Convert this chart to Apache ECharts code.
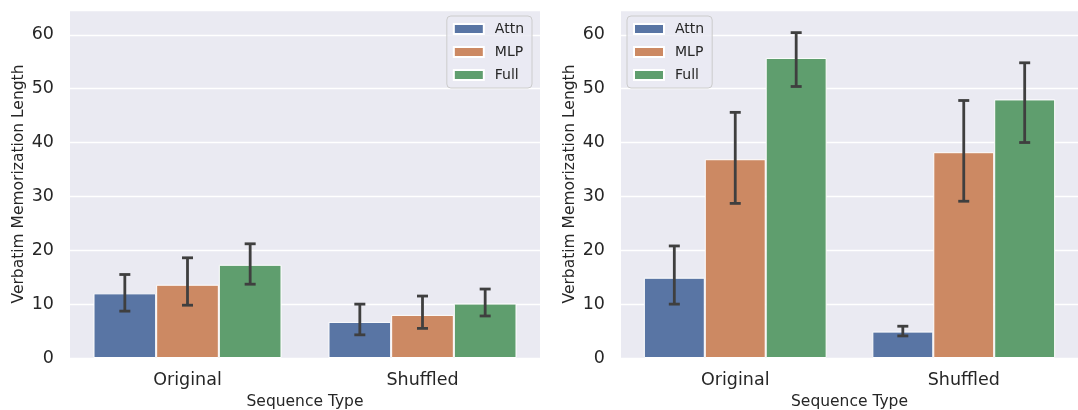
<!DOCTYPE html>
<html>
<head>
<meta charset="utf-8">
<script src="https://cdn.jsdelivr.net/npm/echarts@6/dist/echarts.min.js"></script>
<style>
html,body{margin:0;padding:0;background:#fff;}
#chart{width:1078px;height:410px;}
</style>
</head>
<body>
<div id="chart"></div>
<script>
const categories = ['Original', 'Shuffled'];
const seriesNames = ['Attn', 'MLP', 'Full'];
const colors = ['#5975a4', '#cc8963', '#5f9e6e'];

// Left panel
const leftAttn = [12.0, 6.7];
const leftAttnLo = [8.7, 4.3];
const leftAttnHi = [15.5, 10.0];
const leftMLP = [13.6, 8.0];
const leftMLPLo = [9.8, 5.5];
const leftMLPHi = [18.6, 11.5];
const leftFull = [17.3, 10.1];
const leftFullLo = [13.7, 7.8];
const leftFullHi = [21.2, 12.8];

// Right panel
const rightAttn = [14.9, 4.9];
const rightAttnLo = [10.0, 4.1];
const rightAttnHi = [20.8, 5.9];
const rightMLP = [36.9, 38.2];
const rightMLPLo = [28.7, 29.1];
const rightMLPHi = [45.6, 47.8];
const rightFull = [55.7, 48.0];
const rightFullLo = [50.4, 40.0];
const rightFullHi = [60.4, 54.8];

const yTicks = [0, 10, 20, 30, 40, 50, 60];

const panels = [
  {means: [leftAttn, leftMLP, leftFull], lo: [leftAttnLo, leftMLPLo, leftFullLo], hi: [leftAttnHi, leftMLPHi, leftFullHi]},
  {means: [rightAttn, rightMLP, rightFull], lo: [rightAttnLo, rightMLPLo, rightFullLo], hi: [rightAttnHi, rightMLPHi, rightFullHi]}
];

const textColor = '#262626';
const font = 'DejaVu Sans';

function makeErr(pIdx, sIdx) {
  const lo = panels[pIdx].lo[sIdx], hi = panels[pIdx].hi[sIdx];
  return {
    type: 'custom',
    xAxisIndex: pIdx, yAxisIndex: pIdx,
    z: 10,
    silent: true,
    data: categories.map((c, i) => [i, lo[i], hi[i]]),
    renderItem: function (params, api) {
      const ci = api.value(0);
      const pLo = api.coord([ci, api.value(1)]);
      const pHi = api.coord([ci, api.value(2)]);
      const band = api.size([1, 0])[0];
      const bw = band * 0.8 / 3;
      const x = pLo[0] + (sIdx - 1) * bw;
      const cap = 5.5;
      const st = {stroke: '#3f3f3f', lineWidth: 2.8, lineCap: 'butt'};
      return {
        type: 'group',
        children: [
          {type: 'line', shape: {x1: x, y1: pLo[1], x2: x, y2: pHi[1]}, style: st},
          {type: 'line', shape: {x1: x - cap, y1: pLo[1], x2: x + cap, y2: pLo[1]}, style: st},
          {type: 'line', shape: {x1: x - cap, y1: pHi[1], x2: x + cap, y2: pHi[1]}, style: st}
        ]
      };
    }
  };
}

const series = [];
panels.forEach((p, pIdx) => {
  seriesNames.forEach((n, sIdx) => {
    series.push({
      name: n, type: 'bar',
      xAxisIndex: pIdx, yAxisIndex: pIdx,
      data: p.means[sIdx],
      barGap: '0%', barCategoryGap: '20%',
      itemStyle: {color: colors[sIdx], borderColor: '#ffffff', borderWidth: 1},
      emphasis: {disabled: true}
    });
  });
  seriesNames.forEach((n, sIdx) => series.push(makeErr(pIdx, sIdx)));
});

function xAxis(gi) {
  return {
    type: 'category', gridIndex: gi, data: categories,
    axisLine: {show: false}, axisTick: {show: false},
    axisLabel: {fontSize: 17.5, color: textColor, fontFamily: font, margin: 13},
    name: 'Sequence Type', nameLocation: 'middle', nameGap: 34,
    nameTextStyle: {fontSize: 15.5, color: textColor, fontFamily: font}
  };
}
function yAxis(gi) {
  return {
    type: 'value', gridIndex: gi, min: 0, max: 64.6, interval: 10,
    axisLine: {show: false}, axisTick: {show: false},
    axisLabel: {fontSize: 17.5, color: textColor, fontFamily: font, margin: 16,
      formatter: v => (yTicks.indexOf(v) >= 0 ? String(v) : '')},
    splitLine: {show: true, lineStyle: {color: '#ffffff', width: 1.3}},
    name: 'Verbatim Memorization Length', nameLocation: 'middle', nameGap: 43,
    nameTextStyle: {fontSize: 15.5, color: textColor, fontFamily: font}
  };
}

const legendBase = {
  data: seriesNames, orient: 'vertical',
  itemWidth: 30, itemHeight: 10, itemGap: 9,
  textStyle: {fontSize: 14, color: textColor, fontFamily: font, padding: [0, 0, 0, 6]},
  backgroundColor: 'rgba(234,234,242,0.8)', borderColor: '#cccccc', borderWidth: 1, borderRadius: 4,
  padding: [6, 8, 6, 6], selectedMode: false, icon: 'rect'
};

const option = {
  animation: false,
  backgroundColor: '#ffffff',
  grid: [
    {left: 70, right: 538, top: 10, bottom: 52, show: true, backgroundColor: '#eaeaf2', borderWidth: 0, outerBoundsMode: 'none', containLabel: false},
    {left: 621, right: 0, top: 10, bottom: 52, show: true, backgroundColor: '#eaeaf2', borderWidth: 0, outerBoundsMode: 'none', containLabel: false}
  ],
  xAxis: [xAxis(0), xAxis(1)],
  yAxis: [yAxis(0), yAxis(1)],
  legend: [
    Object.assign({}, legendBase, {right: 546, top: 16}),
    Object.assign({}, legendBase, {left: 627, top: 16})
  ],
  series: series
};

const chart = echarts.init(document.getElementById('chart'), null, {renderer: 'canvas'});
chart.setOption(option);
</script>
</body>
</html>
